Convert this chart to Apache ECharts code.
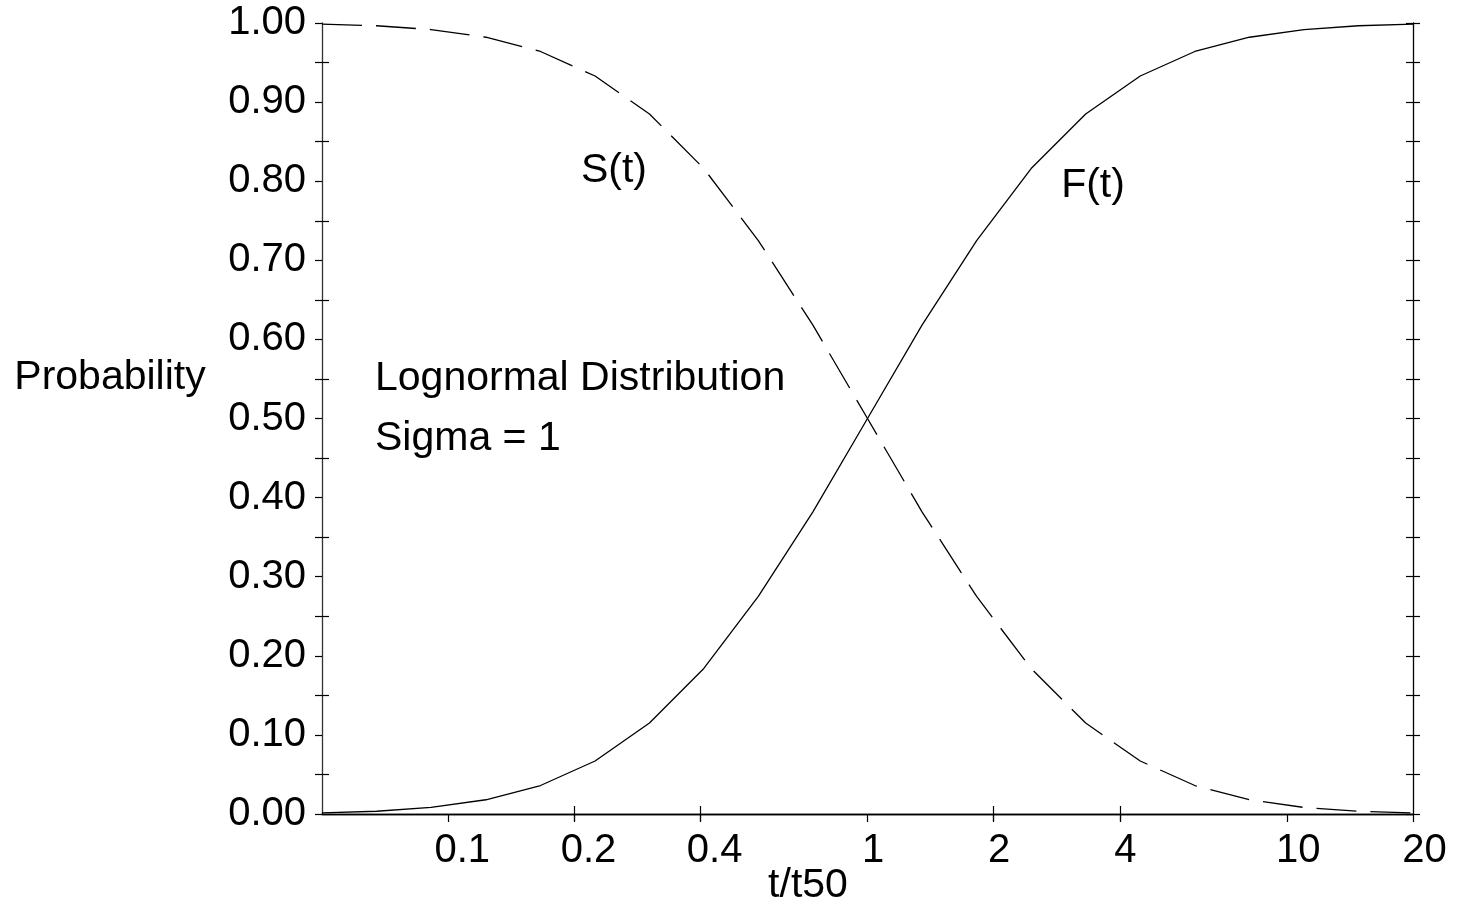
<!DOCTYPE html>
<html>
<head>
<meta charset="utf-8">
<script src="https://cdn.jsdelivr.net/npm/echarts@6/dist/echarts.min.js"></script>
<style>
html,body{margin:0;padding:0;background:#fff;}
#chart{width:1457px;height:908px;}
</style>
</head>
<body>
<div id="chart"></div>
<script>
// t/t50 values (log-spaced points along the curves)
const tRatio = [0.05, 0.0675, 0.091, 0.123, 0.166, 0.224, 0.302, 0.407, 0.549, 0.741, 1, 1.349, 1.821, 2.456, 3.314, 4.472, 6.034, 8.142, 10.99, 14.82, 20];
// F(t): cumulative failure probability
const fValues = [0.0014, 0.0035, 0.0083, 0.018, 0.036, 0.067, 0.115, 0.184, 0.275, 0.382, 0.5, 0.618, 0.725, 0.816, 0.885, 0.933, 0.964, 0.982, 0.9917, 0.9965, 0.9986];
// S(t): survival probability
const sValues = [0.9986, 0.9965, 0.9917, 0.982, 0.964, 0.933, 0.885, 0.816, 0.725, 0.618, 0.5, 0.382, 0.275, 0.184, 0.115, 0.067, 0.036, 0.018, 0.0083, 0.0035, 0.0014];
// tick labels / tick positions
const xLabelValues = [0.1, 0.2, 0.4, 1, 2, 4, 10, 20];
const xInnerTickValues = [0.2, 0.4, 2, 4];
const yMajorTicks = [0, 0.1, 0.2, 0.3, 0.4, 0.5, 0.6, 0.7, 0.8, 0.9, 1.0];
const yMinorTicks = [0.05, 0.15, 0.25, 0.35, 0.45, 0.55, 0.65, 0.75, 0.85, 0.95];
const yAllTicks = [0, 0.05, 0.1, 0.15, 0.2, 0.25, 0.3, 0.35, 0.4, 0.45, 0.5, 0.55, 0.6, 0.65, 0.7, 0.75, 0.8, 0.85, 0.9, 0.95, 1.0];

const FONT = 'Liberation Sans, Arial, sans-serif';
const FS = 40;     // tick labels
const FT = 41;     // titles and annotations
const X_MIN = 0.05, X_MAX = 20;

const chart = echarts.init(document.getElementById('chart'), null, {renderer: 'canvas'});

const lineStyleAxis = {color: '#000', width: 1.3};
const tickStyle = {color: '#000', width: 1.2};

function xAxisBase(extra) {
  return Object.assign({
    type: 'log', logBase: 10, min: X_MIN, max: X_MAX, gridIndex: 0,
    splitLine: {show: false}, minorTick: {show: false}, minorSplitLine: {show: false}
  }, extra);
}
function yAxisBase(extra) {
  return Object.assign({
    type: 'value', min: 0, max: 1, interval: 0.1, gridIndex: 0,
    splitLine: {show: false}, minorTick: {show: false}
  }, extra);
}

const option = {
  backgroundColor: '#fff',
  animation: false,
  grid: {left: 322, right: 44, top: 23, bottom: 94, containLabel: false},
  xAxis: [
    xAxisBase({
      position: 'bottom',
      axisLine: {show: true, lineStyle: lineStyleAxis},
      axisTick: {show: true, inside: false, length: 8, customValues: xLabelValues, lineStyle: tickStyle},
      axisLabel: {show: true, customValues: xLabelValues, margin: 17, color: '#000', fontSize: FS, fontFamily: FONT,
        formatter: v => { const s = String(v); return '{p' + s.length + '| }{t|' + s + '}'; },
        rich: {
          p1: {width: 11, fontSize: FS, fontFamily: FONT},
          p2: {width: 23, fontSize: FS, fontFamily: FONT},
          p3: {width: 28, fontSize: FS, fontFamily: FONT},
          t: {fontSize: FS, fontFamily: FONT, color: '#000'}
        },
        showMinLabel: true, showMaxLabel: true, hideOverlap: false}
    }),
    xAxisBase({
      position: 'bottom',
      axisLine: {show: false},
      axisTick: {show: true, inside: true, length: 8, customValues: xInnerTickValues, lineStyle: tickStyle},
      axisLabel: {show: false}
    }),
    xAxisBase({
      position: 'top',
      axisLine: {show: true, lineStyle: lineStyleAxis},
      axisTick: {show: true, inside: true, length: 7, customValues: xInnerTickValues, lineStyle: tickStyle},
      axisLabel: {show: false}
    })
  ],
  yAxis: [
    yAxisBase({
      position: 'left',
      axisLine: {show: true, lineStyle: {color: '#333', width: 1.3}},
      axisTick: {show: true, inside: false, length: 7, customValues: yAllTicks, lineStyle: tickStyle},
      axisLabel: {show: true, customValues: yMajorTicks, margin: 16, color: '#000', fontSize: FS, fontFamily: FONT,
        formatter: v => v.toFixed(2)}
    }),
    yAxisBase({
      position: 'left',
      axisLine: {show: false},
      axisTick: {show: true, inside: true, length: 7, customValues: yMinorTicks, lineStyle: tickStyle},
      axisLabel: {show: false}
    }),
    yAxisBase({
      position: 'right',
      axisLine: {show: true, lineStyle: lineStyleAxis},
      axisTick: {show: true, inside: false, length: 7, customValues: yAllTicks, lineStyle: tickStyle},
      axisLabel: {show: false}
    }),
    yAxisBase({
      position: 'right',
      axisLine: {show: false},
      axisTick: {show: true, inside: true, length: 7, customValues: yAllTicks, lineStyle: tickStyle},
      axisLabel: {show: false}
    })
  ],
  series: [
    {
      name: 'F(t)', type: 'line', xAxisIndex: 0, yAxisIndex: 0,
      data: tRatio.map((t, i) => [t, fValues[i]]),
      showSymbol: false, symbol: 'none', smooth: false,
      lineStyle: {color: '#000', width: 1.3, type: 'solid'}
    },
    {
      name: 'S(t)', type: 'line', xAxisIndex: 0, yAxisIndex: 0,
      data: tRatio.map((t, i) => [t, sValues[i]]),
      showSymbol: false, symbol: 'none', smooth: false,
      lineStyle: {color: '#000', width: 1.3, type: [40, 14]}
    }
  ],
  graphic: [
    {type: 'text', x: 110, y: 378, style: {text: 'Probability', font: FT + 'px ' + FONT, fill: '#000', align: 'center', verticalAlign: 'middle'}},
    {type: 'text', x: 808, y: 886, style: {text: 't/t50', font: FT + 'px ' + FONT, fill: '#000', align: 'center', verticalAlign: 'middle'}},
    {type: 'text', x: 375, y: 379, style: {text: 'Lognormal Distribution', font: FT + 'px ' + FONT, fill: '#000', align: 'left', verticalAlign: 'middle'}},
    {type: 'text', x: 375, y: 439, style: {text: 'Sigma = 1', font: FT + 'px ' + FONT, fill: '#000', align: 'left', verticalAlign: 'middle'}},
    {type: 'text', x: 614, y: 171, style: {text: 'S(t)', font: FT + 'px ' + FONT, fill: '#000', align: 'center', verticalAlign: 'middle'}},
    {type: 'text', x: 1093, y: 186, style: {text: 'F(t)', font: FT + 'px ' + FONT, fill: '#000', align: 'center', verticalAlign: 'middle'}}
  ]
};
chart.setOption(option);
</script>
</body>
</html>
